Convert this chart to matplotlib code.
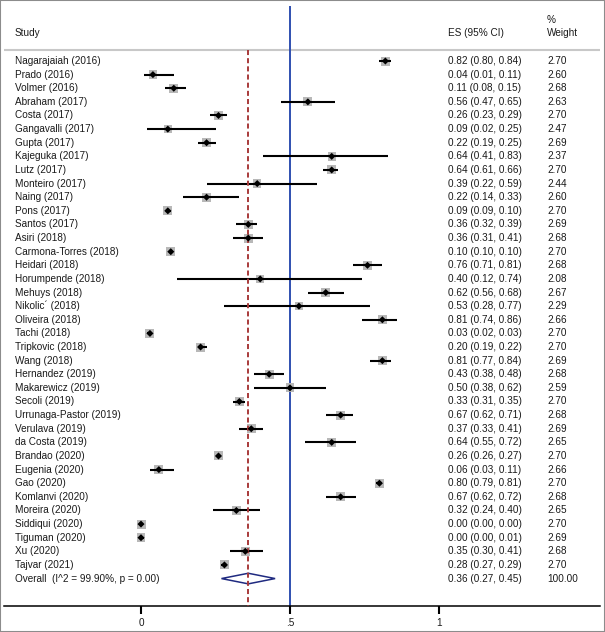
import matplotlib
matplotlib.use("Agg")
import matplotlib.pyplot as plt
import matplotlib.transforms as mtransforms
from matplotlib.patches import Polygon, Rectangle
import numpy as np

plt.rcParams["font.family"] = ["Liberation Sans", "DejaVu Sans"]

studies = [
    "Nagarajaiah (2016)", "Prado (2016)", "Volmer (2016)", "Abraham (2017)",
    "Costa (2017)", "Gangavalli (2017)", "Gupta (2017)", "Kajeguka (2017)",
    "Lutz (2017)", "Monteiro (2017)", "Naing (2017)", "Pons (2017)",
    "Santos (2017)", "Asiri (2018)", "Carmona-Torres (2018)", "Heidari (2018)",
    "Horumpende (2018)", "Mehuys (2018)", "Nikolic\u00b4 (2018)", "Oliveira (2018)",
    "Tachi (2018)", "Tripkovic (2018)", "Wang (2018)", "Hernandez (2019)",
    "Makarewicz (2019)", "Secoli (2019)", "Urrunaga-Pastor (2019)", "Verulava (2019)",
    "da Costa (2019)", "Brandao (2020)", "Eugenia (2020)", "Gao (2020)",
    "Komlanvi (2020)", "Moreira (2020)", "Siddiqui (2020)", "Tiguman (2020)",
    "Xu (2020)", "Tajvar (2021)",
]
es = [0.82, 0.04, 0.11, 0.56, 0.26, 0.09, 0.22, 0.64, 0.64, 0.39, 0.22, 0.09,
      0.36, 0.36, 0.10, 0.76, 0.40, 0.62, 0.53, 0.81, 0.03, 0.20, 0.81, 0.43,
      0.50, 0.33, 0.67, 0.37, 0.64, 0.26, 0.06, 0.80, 0.67, 0.32, 0.00, 0.00,
      0.35, 0.28]
ci_lo = [0.80, 0.01, 0.08, 0.47, 0.23, 0.02, 0.19, 0.41, 0.61, 0.22, 0.14, 0.09,
         0.32, 0.31, 0.10, 0.71, 0.12, 0.56, 0.28, 0.74, 0.02, 0.19, 0.77, 0.38,
         0.38, 0.31, 0.62, 0.33, 0.55, 0.26, 0.03, 0.79, 0.62, 0.24, 0.00, 0.00,
         0.30, 0.27]
ci_hi = [0.84, 0.11, 0.15, 0.65, 0.29, 0.25, 0.25, 0.83, 0.66, 0.59, 0.33, 0.10,
         0.39, 0.41, 0.10, 0.81, 0.74, 0.68, 0.77, 0.86, 0.03, 0.22, 0.84, 0.48,
         0.62, 0.35, 0.71, 0.41, 0.72, 0.27, 0.11, 0.81, 0.72, 0.40, 0.00, 0.01,
         0.41, 0.29]
weights = [2.70, 2.60, 2.68, 2.63, 2.70, 2.47, 2.69, 2.37, 2.70, 2.44, 2.60, 2.70,
           2.69, 2.68, 2.70, 2.68, 2.08, 2.67, 2.29, 2.66, 2.70, 2.70, 2.69, 2.68,
           2.59, 2.70, 2.68, 2.69, 2.65, 2.70, 2.66, 2.70, 2.68, 2.65, 2.70, 2.69,
           2.68, 2.70]
overall_label = "Overall  (I^2 = 99.90%, p = 0.00)"
overall_es, overall_lo, overall_hi, overall_w = 0.36, 0.27, 0.45, 100.00
null_value = 0.5
xticks = [0, 0.5, 1]
xticklabels = ["0", ".5", "1"]

W, H = 605, 632
DPI = 100
PX_PER_UNIT = 298.0      # x scale
X0_PX = 141.0            # pixel of x = 0
ROW0_PX = 61.0           # pixel of first row
ROW_PX = 13.62           # row spacing
AXIS_PX = 605.7          # pixel of x axis line
TXT = "#1a1a1a"
FS = 7.2

fig = plt.figure(figsize=(W / DPI, H / DPI), dpi=DPI)
left_px, right_px = 4, 600
ax = fig.add_axes([left_px / W, (H - AXIS_PX) / H, (right_px - left_px) / W, AXIS_PX / H])
ax.set_xlim((left_px - X0_PX) / PX_PER_UNIT, (right_px - X0_PX) / PX_PER_UNIT)
ax.set_ylim((AXIS_PX - ROW0_PX) / ROW_PX, -ROW0_PX / ROW_PX)
for s in ["top", "left", "right"]:
    ax.spines[s].set_visible(False)
ax.spines["bottom"].set_linewidth(1.1)
ax.set_yticks([])
ax.set_xticks(xticks)
ax.set_xticklabels(xticklabels)
ax.tick_params(axis="x", direction="out", length=6, width=1.5, pad=3,
               labelsize=FS, labelcolor=TXT)

n = len(studies)
rows = np.arange(n)
overall_row = n
bottom_y = ax.get_ylim()[0]
header_line_y = (50 - ROW0_PX) / ROW_PX

# header separator
ax.axhline(header_line_y, xmin=1 / (right_px - left_px), color="#c8c8c8", lw=1.5, zorder=1)

# reference line at 0.5 and overall ES line
ax.vlines(null_value, (6 - ROW0_PX) / ROW_PX, bottom_y, color="#2f4fb0", lw=1.4, zorder=2)
ax.vlines(overall_es, header_line_y, bottom_y, color="#a83a3a", lw=1.4,
          linestyles=(0, (2.6, 1.6)), zorder=5)

# study markers: grey box with area ~ weight, black CI line, black point
w = np.array(weights)
side_pt = 9 * np.sqrt(w / 2.70) * 72 / DPI
ax.scatter(es, rows, s=side_pt ** 2, marker="s", color="#b8b8b8", edgecolors="none", zorder=3)
ax.hlines(rows, ci_lo, ci_hi, color="black", lw=1.5, zorder=4)
ax.scatter(es, rows, s=13, marker="D", color="black", edgecolors="none", zorder=6)

# overall diamond
h = 5.3 / ROW_PX
diamond = Polygon([(overall_lo, overall_row), (overall_es, overall_row - h),
                   (overall_hi, overall_row), (overall_es, overall_row + h)],
                  closed=True, fill=False, edgecolor="#1f2a80", lw=1.1, zorder=4)
ax.add_patch(diamond)

# text columns
tr = mtransforms.blended_transform_factory(fig.transFigure, ax.transData)
x_study, x_es, x_w = 15 / W, 447.5 / W, 547 / W
hy = (33.5 - ROW0_PX) / ROW_PX
ax.text(x_study, hy, "Study", transform=tr, fontsize=FS, color=TXT, va="center")
ax.text(x_es, hy, "ES (95% CI)", transform=tr, fontsize=FS, color=TXT, va="center")
ax.text(x_w, hy, "Weight", transform=tr, fontsize=FS, color=TXT, va="center")
ax.text(x_w, (20 - ROW0_PX) / ROW_PX, "%", transform=tr, fontsize=FS, color=TXT, va="center")

for i in range(n):
    ax.text(x_study, i, studies[i], transform=tr, fontsize=FS, color=TXT, va="center")
    ax.text(x_es, i, f"{es[i]:.2f} ({ci_lo[i]:.2f}, {ci_hi[i]:.2f})", transform=tr,
            fontsize=FS, color=TXT, va="center")
    ax.text(x_w, i, f"{weights[i]:.2f}", transform=tr, fontsize=FS, color=TXT, va="center")

ax.text(x_study, overall_row, overall_label, transform=tr, fontsize=FS, color=TXT, va="center")
ax.text(x_es, overall_row, f"{overall_es:.2f} ({overall_lo:.2f}, {overall_hi:.2f})",
        transform=tr, fontsize=FS, color=TXT, va="center")
ax.text(x_w, overall_row, f"{overall_w:.2f}", transform=tr, fontsize=FS, color=TXT, va="center")

# outer frame
fig.patches.append(Rectangle((0, 0), 1, 1, transform=fig.transFigure, fill=False,
                             edgecolor="#8c8c8c", lw=1.5))

fig.savefig("out.png", dpi=DPI)
